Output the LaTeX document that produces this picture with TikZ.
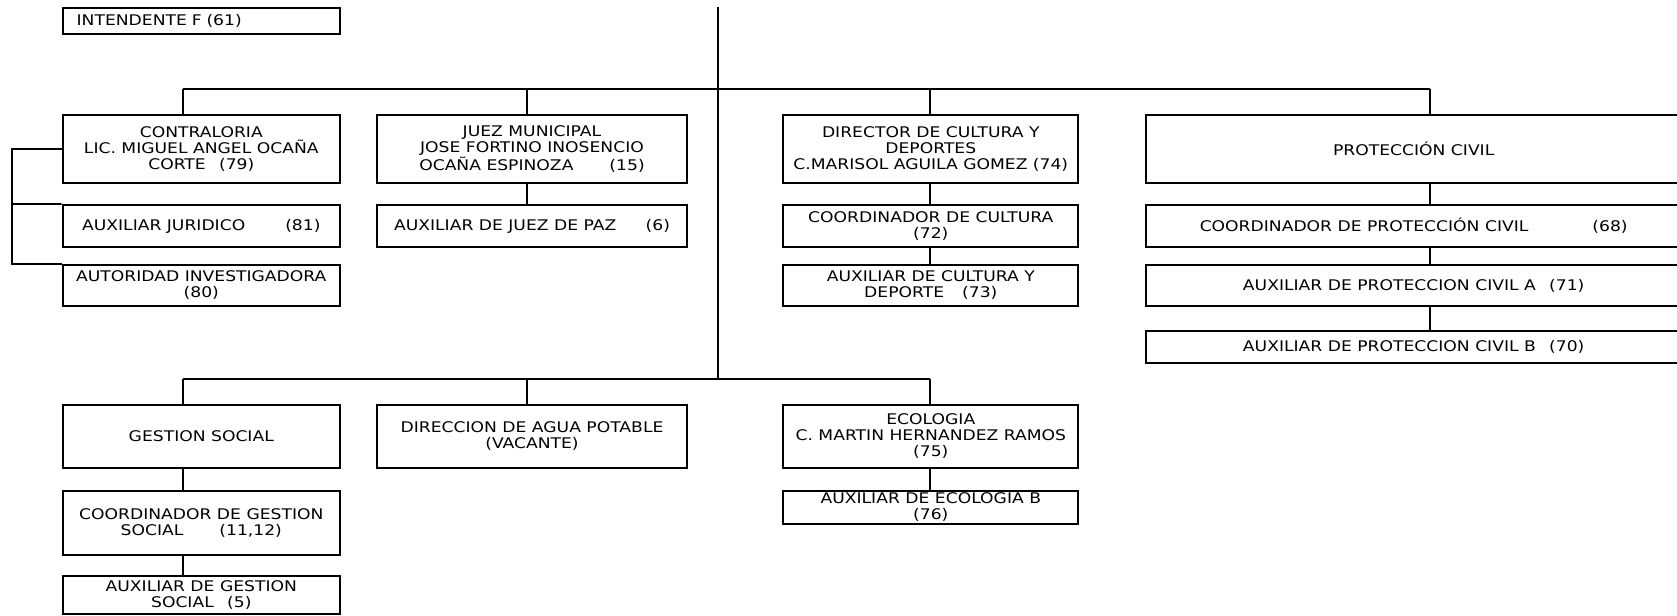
\documentclass[tikz,border=0pt]{standalone}
\usepackage{fontspec}
\setmainfont{DejaVu Sans}[FakeStretch=1.17]

\begin{document}
\begin{tikzpicture}[x=0.75pt,y=-0.75pt]
\tikzstyle{every node}+=[inner sep=1pt]
\tikzstyle{cargo}=[draw, line width=1.6pt, align=center, font=\fontsize{11}{12}\selectfont]
\tikzstyle{linea}=[line width=1.3pt]
\useasboundingbox (0,0) rectangle (1677,616);
\clip (0,0) rectangle (1677,616);
\node [cargo, minimum width=208pt, minimum height=19.5pt, text width=187pt, align=left, inner xsep=10.5pt] (intendente) at (201.3,21) {INTENDENTE F (61)};
\node [cargo, minimum width=208pt, minimum height=50.8pt] (contraloria) at (201.3,148.9) {CONTRALORIA\\LIC. MIGUEL ANGEL OCAÑA\\CORTE\hspace{10pt}(79)};
\node [cargo, minimum width=233pt, minimum height=50.8pt] (juez) at (532,148.9) {JUEZ MUNICIPAL\\JOSE FORTINO INOSENCIO\\OCAÑA ESPINOZA\hspace{27pt}(15)};
\node [cargo, minimum width=221.25pt, minimum height=50.8pt] (director) at (930.8,148.9) {DIRECTOR DE CULTURA Y\\DEPORTES\\C.MARISOL AGUILA GOMEZ (74)};
\node [cargo, minimum width=402pt, minimum height=50.8pt] (proteccion) at (1413.7,148.9) {PROTECCIÓN CIVIL};
\node [cargo, minimum width=208pt, minimum height=31.5pt] (auxjuridico) at (201.3,226) {AUXILIAR JURIDICO\hspace{30pt}(81)};
\node [cargo, minimum width=233pt, minimum height=31.5pt] (auxjuez) at (532,226) {AUXILIAR DE JUEZ DE PAZ\hspace{22pt}(6)};
\node [cargo, minimum width=221.25pt, minimum height=31.5pt] (coordcultura) at (930.8,226) {COORDINADOR DE CULTURA\\(72)};
\node [cargo, minimum width=402pt, minimum height=31.5pt] (coordproteccion) at (1413.7,226) {COORDINADOR DE PROTECCIÓN CIVIL\hspace{48pt}(68)};
\node [cargo, minimum width=208pt, minimum height=30.75pt] (autoridad) at (201.3,285.5) {AUTORIDAD INVESTIGADORA\\(80)};
\node [cargo, minimum width=221.25pt, minimum height=30.75pt] (auxcultura) at (930.8,285.5) {AUXILIAR DE CULTURA Y\\DEPORTE\hspace{13.5pt}(73)};
\node [cargo, minimum width=402pt, minimum height=30.75pt] (auxproteccionA) at (1413.7,285.5) {AUXILIAR DE PROTECCION CIVIL A\hspace{10pt}(71)};
\node [cargo, minimum width=402pt, minimum height=24pt] (auxproteccionB) at (1413.7,346.7) {AUXILIAR DE PROTECCION CIVIL B\hspace{10pt}(70)};
\node [cargo, minimum width=208pt, minimum height=47.25pt] (gestion) at (201.3,436.5) {GESTION SOCIAL};
\node [cargo, minimum width=233pt, minimum height=47.25pt] (agua) at (532,436.5) {DIRECCION DE AGUA POTABLE\\(VACANTE)};
\node [cargo, minimum width=221.25pt, minimum height=47.25pt] (ecologia) at (930.8,436.5) {ECOLOGIA\\C. MARTIN HERNANDEZ RAMOS\\(75)};
\node [cargo, minimum width=208pt, minimum height=48.2pt] (coordgestion) at (201.3,522.9) {COORDINADOR DE GESTION\\SOCIAL\hspace{27pt}(11,12)};
\node [cargo, minimum width=208pt, minimum height=28.3pt] (auxgestion) at (201.3,595.2) {AUXILIAR DE GESTION\\SOCIAL\hspace{10pt}(5)};
\node [cargo, minimum width=221.25pt, minimum height=25pt] (auxecologia) at (930.8,507.3) {AUXILIAR DE ECOLOGIA B\\(76)};
\coordinate (arriba) at (717.7,7.3);
\coordinate (cruce) at (717.7,378.7);
\coordinate (r1) at (182.7,89);
\coordinate (r2) at (527,89);
\coordinate (r3) at (930,89);
\coordinate (r4) at (1430,89);
\coordinate (s1) at (182.7,378.7);
\coordinate (s2) at (527,378.7);
\coordinate (s3) at (930,378.7);
\coordinate (lado) at (11.7,204);
\draw [linea] (arriba) -- (cruce);
\draw [linea] (r1) -- (r4);
\draw [linea] (s1) -- (s3);
\draw [linea] (r1) -- (r1 |- contraloria.north);
\draw [linea] (r2) -- (r2 |- juez.north);
\draw [linea] (r3) -- (r3 |- director.north);
\draw [linea] (r4) -- (r4 |- proteccion.north);
\draw [linea] (contraloria.west) -| (lado) |- (autoridad.north west);
\draw [linea] (lado) -- (auxjuridico.north west);
\draw [linea] (r2 |- juez.south) -- (r2 |- auxjuez.north);
\draw [linea] (r3 |- director.south) -- (r3 |- coordcultura.north);
\draw [linea] (r3 |- coordcultura.south) -- (r3 |- auxcultura.north);
\draw [linea] (r4 |- proteccion.south) -- (r4 |- coordproteccion.north);
\draw [linea] (r4 |- coordproteccion.south) -- (r4 |- auxproteccionA.north);
\draw [linea] (r4 |- auxproteccionA.south) -- (r4 |- auxproteccionB.north);
\draw [linea] (s1) -- (s1 |- gestion.north);
\draw [linea] (s2) -- (s2 |- agua.north);
\draw [linea] (s3) -- (s3 |- ecologia.north);
\draw [linea] (s1 |- gestion.south) -- (s1 |- coordgestion.north);
\draw [linea] (s1 |- coordgestion.south) -- (s1 |- auxgestion.north);
\draw [linea] (s3 |- ecologia.south) -- (s3 |- auxecologia.north);
\end{tikzpicture}
\end{document}
